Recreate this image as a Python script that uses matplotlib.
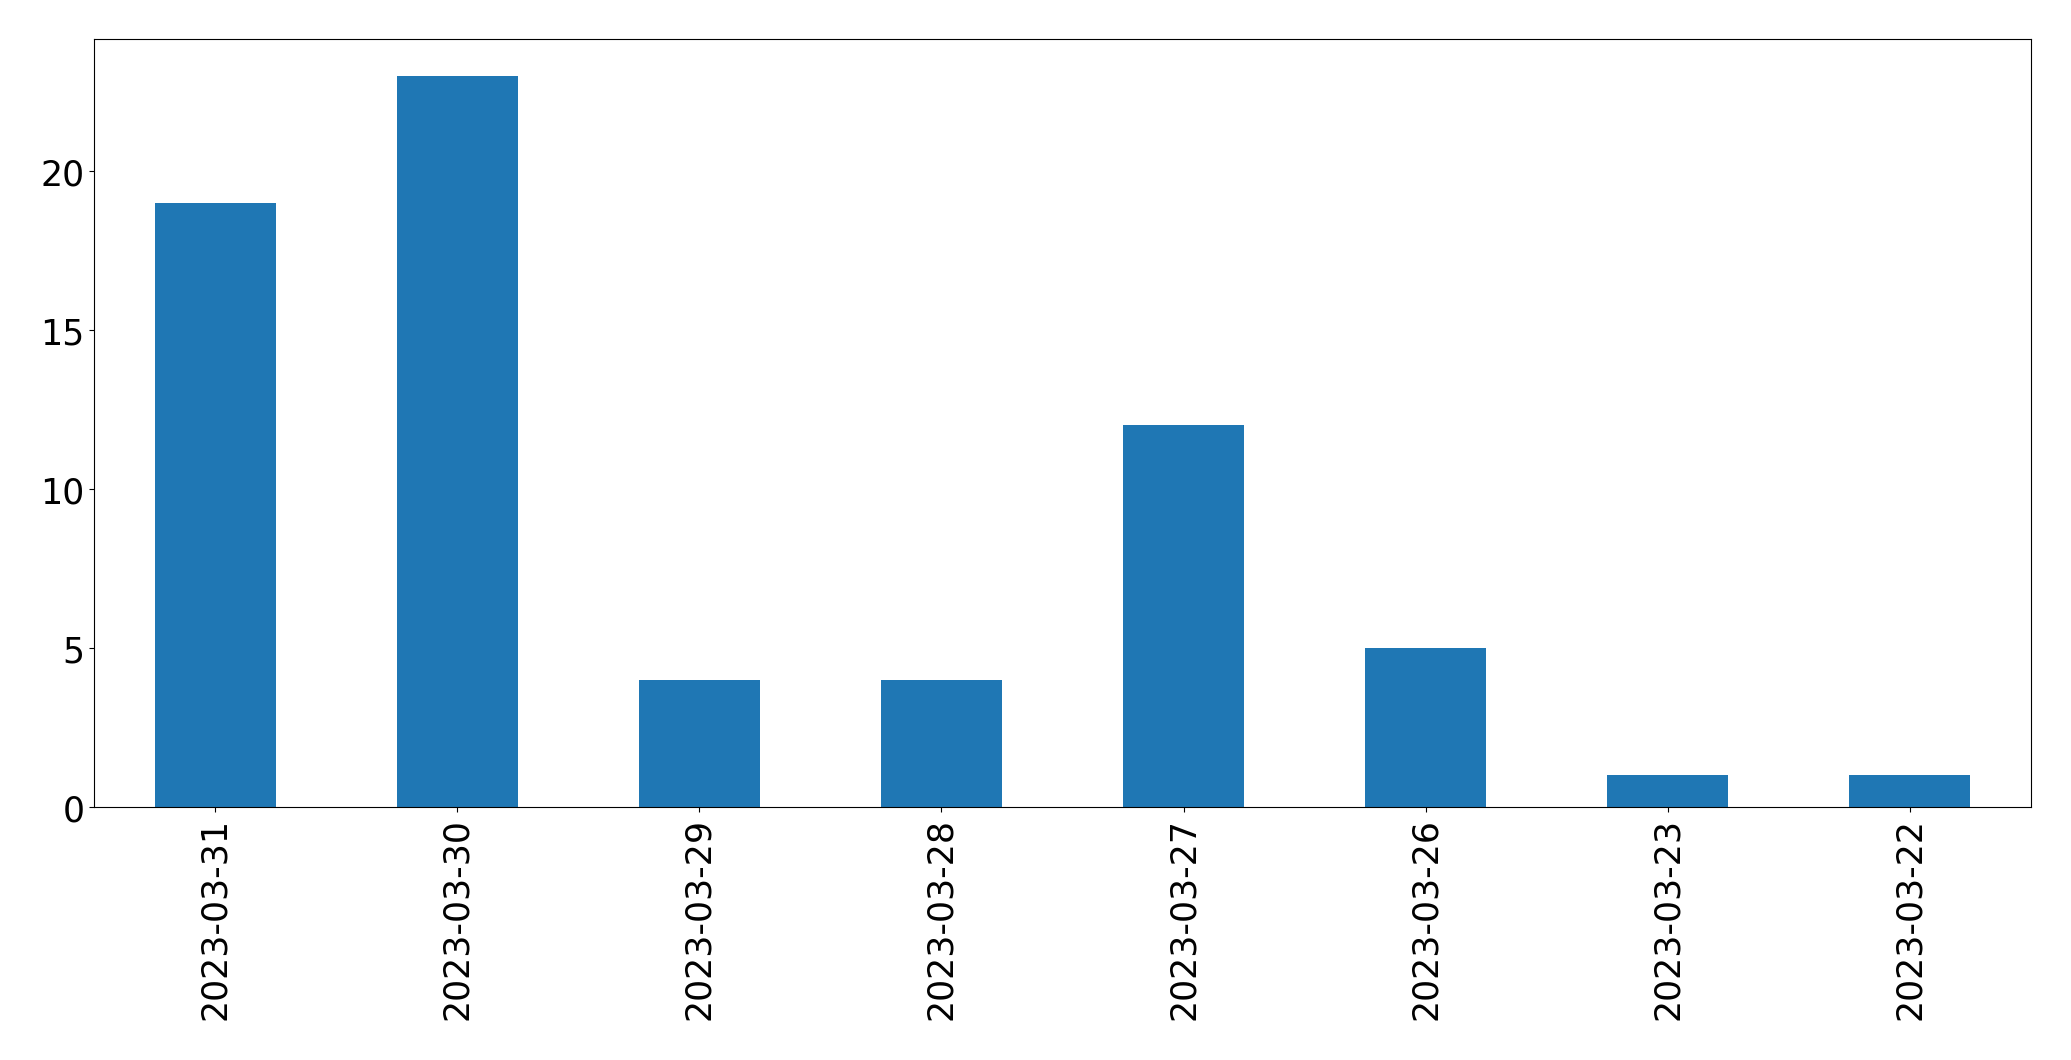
import matplotlib
matplotlib.use('Agg')

import numpy as np
import matplotlib.pyplot as plt

# counts per day
dates = ['2023-03-31', '2023-03-30', '2023-03-29', '2023-03-28',
         '2023-03-27', '2023-03-26', '2023-03-23', '2023-03-22']
counts = [19, 23, 4, 4, 12, 5, 1, 1]

fig = plt.figure(figsize=(20.71, 10.6095), dpi=100)
ax = fig.add_subplot(111)
fig.subplots_adjust(left=0.0454, right=0.9807, top=0.9623, bottom=0.2385)

x = np.arange(len(dates))
ax.bar(x, counts, width=0.5, color='#1f77b4')

ax.set_xlim(-0.5, len(dates) - 0.5)
ax.set_ylim(0, max(counts) * 1.05)
ax.set_xticks(x)
ax.set_xticklabels(dates, rotation=90)
ax.tick_params(labelsize=25)

plt.savefig('out.png', dpi=100)
